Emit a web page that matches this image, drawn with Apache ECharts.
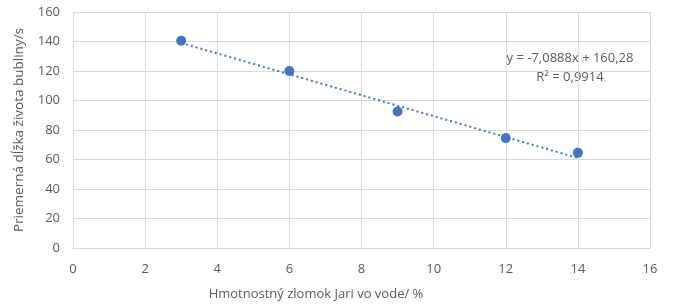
<!DOCTYPE html>
<html><head><meta charset="utf-8">
<script src="https://cdn.jsdelivr.net/npm/echarts@6/dist/echarts.min.js"></script>
<style>html,body{margin:0;padding:0;background:#fff}#c{width:675px;height:306px}</style>
</head><body><div id="c"></div>
<script>
const xValues = [3, 6, 9, 12, 14];
const yValues = [140.5, 120, 92.5, 74.5, 64.5];
const slope = -7.0888;
const intercept = 160.28;
const trendX = [3, 14];
const eqLabel = 'y = -7,0888x + 160,28';
const r2Label = 'R² = 0,9914';
const xTitle = 'Hmotnostný zlomok Jari vo vode/ %';
const yTitle = 'Priemerná dĺžka života bubliny/s';

const points = xValues.map((x, i) => [x, yValues[i]]);
const trend = trendX.map(x => [x, slope * x + intercept]);
const font = 'Open Sans';
const grey = '#595959';
const chart = echarts.init(document.getElementById('c'));
chart.setOption({
  animation: false,
  grid: {left: 73, right: 25, top: 12, bottom: 58, show: false},
  xAxis: {
    type: 'value', min: 0, max: 16, interval: 2,
    axisLine: {show: true, lineStyle: {color: '#d9d9d9'}},
    axisTick: {show: false},
    axisLabel: {color: grey, fontFamily: font, fontSize: 13, margin: 15},
    splitLine: {show: true, lineStyle: {color: '#d9d9d9'}}
  },
  yAxis: {
    type: 'value', min: 0, max: 160, interval: 20,
    name: yTitle, nameLocation: 'middle', nameGap: 47, nameRotate: 90,
    nameTextStyle: {color: grey, fontFamily: font, fontSize: 13.5},
    axisLine: {show: false},
    axisTick: {show: false},
    axisLabel: {color: grey, fontFamily: font, fontSize: 13, margin: 13},
    splitLine: {show: true, lineStyle: {color: '#d9d9d9'}}
  },
  graphic: [
    {type: 'text', x: 316, y: 294, style: {text: xTitle, fill: grey, font: '13px "Open Sans"', align: 'center', verticalAlign: 'middle'}},
    {type: 'text', x: 570, y: 58, style: {text: eqLabel, fill: grey, font: '13px "Open Sans"', align: 'center', verticalAlign: 'middle'}},
    {type: 'text', x: 570, y: 77, style: {text: r2Label, fill: grey, font: '13px "Open Sans"', align: 'center', verticalAlign: 'middle'}}
  ],
  series: [
    {type: 'line', data: trend, symbol: 'none', lineStyle: {color: '#4472C4', width: 2, type: [2, 3]}, z: 2},
    {type: 'scatter', data: points, symbol: 'circle', symbolSize: 10, itemStyle: {color: '#4472C4', opacity: 1}, z: 3}
  ]
});
</script></body></html>
